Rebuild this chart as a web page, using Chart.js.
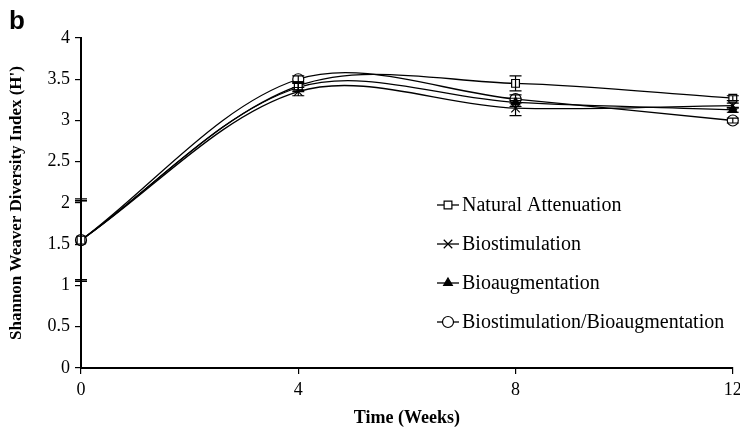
<!DOCTYPE html>
<html><head><meta charset="utf-8">
<script src="https://cdn.jsdelivr.net/npm/chart.js@4/dist/chart.umd.min.js"></script>
<style>html,body{margin:0;padding:0;background:#fff}#wrap{position:relative;width:740px;height:433px}</style>
</head><body><div id="wrap"><canvas id="c" width="740" height="433"></canvas></div>
<script>
const weeks = [0, 4, 8, 12];
const seriesNames = ["Natural Attenuation", "Biostimulation", "Bioaugmentation", "Biostimulation/Bioaugmentation"];
const naturalAttenuation = [1.55, 3.42, 3.45, 3.27];
const biostimulation = [1.55, 3.35, 3.15, 3.18];
const bioaugmentation = [1.55, 3.40, 3.22, 3.13];
const bsba = [1.55, 3.50, 3.26, 3.00];
const errNA = [0.50, 0.05, 0.09, 0.03];
const errBS = [0.48, 0.05, 0.09, 0.03];
const errBA = [0.48, 0.05, 0.05, 0.03];
const errBSBA = [0.48, 0.04, 0.05, 0.03];
const xTicks = [0, 4, 8, 12];
const yTicks = [0, 0.5, 1, 1.5, 2, 2.5, 3, 3.5, 4];

const serif = "'Liberation Serif', 'Times New Roman', serif";
const styles = [
  {pointStyle:'rect', bg:'#fff', r:5.5},
  {pointStyle:'crossRot', bg:'#000', r:6},
  {pointStyle:'triangle', bg:'#000', r:5},
  {pointStyle:'circle', bg:'#fff', r:5.5}
];
const vals = [naturalAttenuation, biostimulation, bioaugmentation, bsba];
const errs = [errNA, errBS, errBA, errBSBA];

const datasets = vals.map((v,i)=>({
  label: seriesNames[i],
  data: weeks.map((w,j)=>({x:w,y:v[j]})),
  err: errs[i],
  borderColor:'#000', borderWidth:1.3,
  backgroundColor: styles[i].bg,
  pointStyle: styles[i].pointStyle,
  pointRadius: styles[i].r,
  pointBorderColor:'#000', pointBorderWidth:1.2,
  pointBackgroundColor: styles[i].bg,
  tension:0.33, fill:false, clip:false
}));

const errorBars = {
  id:'errorBars',
  afterDatasetsDraw(chart){
    const ctx = chart.ctx, xs = chart.scales.x, ys = chart.scales.y;
    ctx.save(); ctx.strokeStyle='#000'; ctx.lineWidth=1.2;
    chart.data.datasets.forEach(ds=>{
      ds.data.forEach((p,j)=>{
        const e = ds.err[j]; const x = xs.getPixelForValue(p.x);
        const y1 = ys.getPixelForValue(p.y+e), y2 = ys.getPixelForValue(p.y-e);
        ctx.beginPath(); ctx.moveTo(x,y1); ctx.lineTo(x,y2);
        ctx.moveTo(x-6,y1); ctx.lineTo(x+6,y1);
        ctx.moveTo(x-6,y2); ctx.lineTo(x+6,y2); ctx.stroke();
      });
    });
    ctx.restore();
  }
};

const legendPlugin = {
  id:'innerLegend',
  afterDraw(chart){
    const ctx = chart.ctx; ctx.save();
    const x0 = 437, x1 = 459, rows=[205,244,283,322];
    chart.data.datasets.forEach((ds,i)=>{
      const y = rows[i];
      ctx.strokeStyle='#000'; ctx.lineWidth=1.3;
      ctx.beginPath(); ctx.moveTo(x0,y); ctx.lineTo(x1,y); ctx.stroke();
      ctx.fillStyle = ds.pointBackgroundColor; ctx.strokeStyle='#000'; ctx.lineWidth=1.2;
      Chart.helpers.drawPoint(ctx,{pointStyle:ds.pointStyle, radius:ds.pointRadius, borderWidth:1.2}, (x0+x1)/2, y);
      ctx.fillStyle='#000'; ctx.font = "20px "+serif; ctx.textBaseline='middle'; ctx.textAlign='left';
      ctx.fillText(ds.label, x1+3, y+1);
    });
    ctx.font = "bold 26px 'Liberation Sans', Arial, sans-serif"; ctx.textBaseline='alphabetic';
    ctx.fillText('b', 9, 29);
    ctx.restore();
  }
};

new Chart(document.getElementById('c'), {
  type:'line',
  data:{datasets},
  plugins:[errorBars, legendPlugin],
  options:{
    responsive:false, animation:false,
    layout:{padding:{left:2,right:7,top:38,bottom:0}},
    plugins:{legend:{display:false}, tooltip:{enabled:false}},
    scales:{
      x:{type:'linear', min:0, max:12,
        afterBuildTicks(s){ s.ticks = xTicks.map(v=>({value:v})); },
        afterFit(s){ s.height = 65; s.paddingRight = 5; },
        border:{color:'#000', width:2},
        grid:{display:true, drawOnChartArea:false, drawTicks:true, tickLength:6, color:'#000', lineWidth:1.2},
        ticks:{color:'#000', font:{family:serif, size:18}, padding:5, maxRotation:0, callback:v=>String(v)},
        title:{display:true, text:'Time (Weeks)', color:'#000', font:{family:serif, size:18, weight:'bold'}, padding:{top:0}}
      },
      y:{min:0, max:4,
        afterBuildTicks(s){ s.ticks = yTicks.map(v=>({value:v})); },
        afterFit(s){ s.width = 79; },
        border:{color:'#000', width:2},
        grid:{display:true, drawOnChartArea:false, drawTicks:true, tickLength:6, color:'#000', lineWidth:1.2},
        ticks:{color:'#000', font:{family:serif, size:18}, padding:5, callback:v=>String(v)},
        title:{display:true, text:"Shannon Weaver Diversity Index (H')", color:'#000', font:{family:serif, size:17, weight:'bold'}, padding:{bottom:2}}
      }
    }
  }
});
</script></body></html>
